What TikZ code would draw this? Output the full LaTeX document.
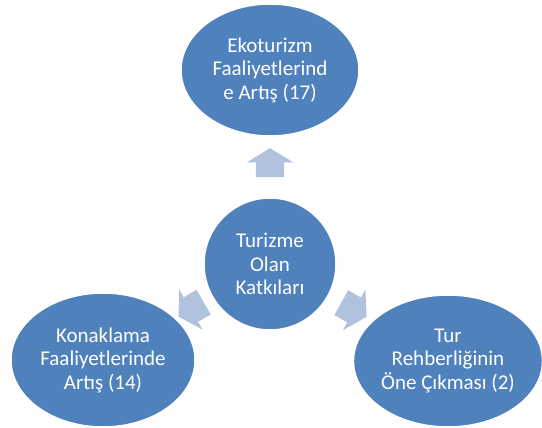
\documentclass[tikz,border=0pt]{standalone}
\usepackage{fontspec}
\setmainfont{Carlito}
\usetikzlibrary{shapes.geometric}
\usetikzlibrary{shapes.arrows}
\usetikzlibrary{calc}

\definecolor{smartblue}{RGB}{79,129,189}
\definecolor{smartlight}{RGB}{176,194,222}

\tikzset{
	bubble/.style={ellipse, fill=smartblue, draw=white, line width=1.5pt, text=white, align=center, inner sep=0pt, font=\fontsize{21}{23.5}\selectfont},
	blockarrow/.style={single arrow, fill=smartlight, minimum height=29pt, minimum width=46pt, single arrow head extend=9pt, single arrow tip angle=117, inner xsep=0pt, inner ysep=14pt}
}

\begin{document}
\begin{tikzpicture}[x=1pt,y=1pt]
		\useasboundingbox (0,0) rectangle (542,428);
		
		\node[bubble, minimum width=132pt, minimum height=132pt] (centre) at (270,164) {Turizme\\Olan\\Katkıları};
		\node[bubble, minimum width=178pt, minimum height=132pt] (eko) at (270,358) {Ekoturizm\\Faaliyetlerind\\e Artış (17)};
		\node[bubble, minimum width=184pt, minimum height=134pt] (konak) at (103,68) {Konaklama\\Faaliyetlerinde\\Artış (14)};
		\node[bubble, minimum width=186pt, minimum height=132pt] (rehber) at (448,67) {Tur\\Rehberliğinin\\Öne Çıkması (2)};
		
		\node[blockarrow, rotate=90] (upArrow) at ($(centre)!0.5!(eko)$) {};
		\node[blockarrow, rotate=210] (leftArrow) at ($(centre)!0.45!(konak)$) {};
		\node[blockarrow, rotate=-29] (rightArrow) at ($(centre)!0.45!(rehber)$) {};
		\end{tikzpicture}
\end{document}
